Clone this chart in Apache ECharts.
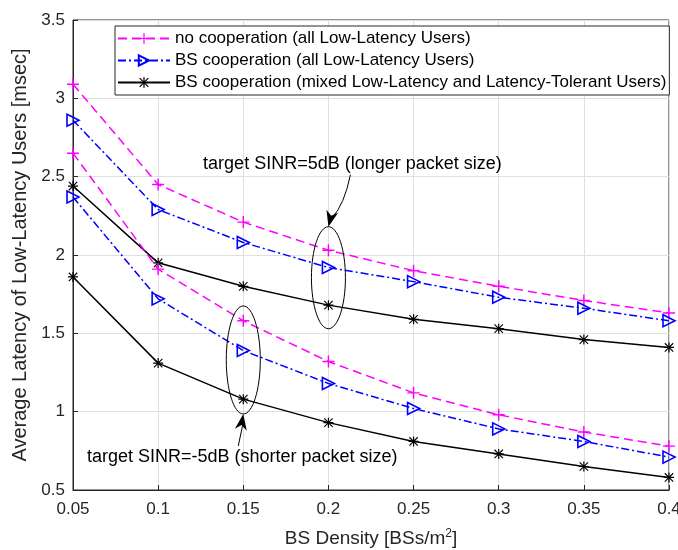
<!DOCTYPE html>
<html>
	<head>
		<meta charset="utf-8" />
		<title>Average Latency vs BS Density</title>
		<style type="text/css">
			html, body {margin:0;padding:0;background:#fff;}
			#chart {width:678px;height:550px;}
		</style>
	</head>
	<body>
		<div id="chart"></div>
		<script src="https://cdnjs.cloudflare.com/ajax/libs/echarts/6.0.0/echarts.min.js"></script>
		<script type="text/javascript">
			// BS density (x axis)
			const densities = [0.05, 0.1, 0.15, 0.2, 0.25, 0.3, 0.35, 0.4];
			// target SINR = 5dB (longer packet size)
			const noCoop5dB = [3.09, 2.45, 2.21, 2.03, 1.90, 1.80, 1.71, 1.63];
			const coop5dB = [2.86, 2.29, 2.08, 1.92, 1.83, 1.73, 1.66, 1.58];
			const mixed5dB = [2.44, 1.95, 1.80, 1.68, 1.59, 1.53, 1.46, 1.41];
			// target SINR = -5dB (shorter packet size)
			const noCoopM5dB = [2.65, 1.91, 1.58, 1.32, 1.12, 0.98, 0.87, 0.78];
			const coopM5dB = [2.37, 1.72, 1.39, 1.18, 1.02, 0.89, 0.81, 0.71];
			const mixedM5dB = [1.86, 1.31, 1.08, 0.93, 0.81, 0.73, 0.65, 0.58];
			const legendNames = [
				'no cooperation (all Low-Latency Users)',
				'BS cooperation (all Low-Latency Users)',
				'BS cooperation (mixed Low-Latency and Latency-Tolerant Users)'
			];

			const FONT = 'Liberation Sans, Arial, sans-serif';
			const plusSym = 'path://M4.4,0h1.2v4.4h4.4v1.2h-4.4v4.4h-1.2v-4.4h-4.4v-1.2h4.4z';
			const triSym = 'path://M0,0 L10,5 L0,10 Z';
			const starSym = 'path://M4.4,0h1.2v10h-1.2z M0,4.4h10v1.2h-10z M1.2,0.4 L9.6,8.8 L8.8,9.6 L0.4,1.2z M8.8,0.4 L9.6,1.2 L1.2,9.6 L0.4,8.8z';

			const pairs = arr => densities.map((x, i) => [x, arr[i]]);

			function makeSeries(name, values, kind) {
				const s = {name: name, type: 'line', data: pairs(values), animation: false, z: 3};
				if (kind === 0) {
					s.symbol = plusSym; s.symbolSize = 12;
					s.itemStyle = {color: '#ff00ff'};
					s.lineStyle = {color: '#ff00ff', width: 1.5, type: [9, 5]};
				} else if (kind === 1) {
					s.symbol = triSym; s.symbolSize = [12, 12];
					s.itemStyle = {color: 'rgba(255,255,255,0)', borderColor: '#0000ff', borderWidth: 1.6};
					s.lineStyle = {color: '#0000ff', width: 1.5, type: [8, 3, 2, 3]};
				} else {
					s.symbol = starSym; s.symbolSize = 10;
					s.itemStyle = {color: '#000'};
					s.lineStyle = {color: '#000', width: 1.5};
				}
				return s;
			}

			const chart = echarts.init(document.getElementById('chart'));
			const opt = {
				backgroundColor: '#fff',
				animation: false,
				grid: {
					left: 73, right: 9, top: 20, bottom: 60,
					outerBoundsMode: 'none', containLabel: false,
					show: true, borderColor: '#262626', borderWidth: 1
				},
				legend: {
					data: legendNames,
					orient: 'vertical',
					left: 115, top: 26,
					itemWidth: 52, itemHeight: 13, itemGap: 5,
					padding: [4, 3, 4, 2],
					backgroundColor: '#fff',
					borderColor: '#262626', borderWidth: 1,
					textStyle: {fontFamily: FONT, fontSize: 17, color: '#000'}
				},
				xAxis: {
					type: 'value',
					min: 0.05, max: 0.4, interval: 0.05,
					name: 'BS Density [BSs/m{sup|2}]',
					nameLocation: 'middle', nameGap: 38,
					nameTextStyle: {
						fontFamily: FONT, fontSize: 19, color: '#262626',
						rich: {sup: {fontFamily: FONT, fontSize: 12, color: '#262626', verticalAlign: 'top', padding: [0, 0, 9, 0]}}
					},
					axisLine: {onZero: false, lineStyle: {color: '#262626'}},
					axisTick: {inside: true, length: 5, lineStyle: {color: '#262626'}},
					axisLabel: {fontFamily: FONT, fontSize: 17, color: '#262626', margin: 11,
						formatter: v => String(+v.toFixed(2))},
					splitLine: {show: true, lineStyle: {color: '#dfdfdf'}}
				},
				yAxis: {
					type: 'value',
					min: 0.5, max: 3.5, interval: 0.5,
					name: 'Average Latency of Low-Latency Users [msec]',
					nameLocation: 'middle', nameGap: 41,
					nameTextStyle: {fontFamily: FONT, fontSize: 20, color: '#262626'},
					axisLine: {onZero: false, lineStyle: {color: '#262626'}},
					axisTick: {inside: true, length: 5, lineStyle: {color: '#262626'}},
					axisLabel: {fontFamily: FONT, fontSize: 17, color: '#262626', margin: 8,
						formatter: v => String(+v.toFixed(1))},
					splitLine: {show: true, lineStyle: {color: '#dfdfdf'}}
				},
				series: [
					makeSeries(legendNames[0], noCoop5dB, 0),
					makeSeries(legendNames[1], coop5dB, 1),
					makeSeries(legendNames[2], mixed5dB, 2),
					makeSeries(legendNames[0], noCoopM5dB, 0),
					makeSeries(legendNames[1], coopM5dB, 1),
					makeSeries(legendNames[2], mixedM5dB, 2)
				]
			};
			chart.setOption(opt);

			// annotations: ellipses, arrows and texts, placed from data coordinates
			const px = p => chart.convertToPixel({xAxisIndex: 0, yAxisIndex: 0}, p);
			function arrowHead(tip, from, len, half) {
				const dx = tip[0] - from[0], dy = tip[1] - from[1];
				const d = Math.sqrt(dx * dx + dy * dy);
				const ux = dx / d, uy = dy / d;
				const bx = tip[0] - ux * len, by = tip[1] - uy * len;
				const nx = tip[0] - ux * len * 0.7, ny = tip[1] - uy * len * 0.7;
				return [tip, [bx - uy * half, by + ux * half], [nx, ny], [bx + uy * half, by - ux * half]];
			}
			const c1 = px([0.2, (noCoop5dB[3] + mixed5dB[3]) / 2]);
			const c2 = px([0.15, (noCoopM5dB[2] + mixedM5dB[2]) / 2]);
			const ry1 = 51, ry2 = 54;
			const tip1 = [c1[0], c1[1] - ry1];
			const tail1 = [c1[0] + 22, c1[1] - ry1 - 52];
			const ctrl1 = [c1[0] + 16, c1[1] - ry1 - 22];
			const tip2 = [c2[0], c2[1] + ry2];
			const tail2 = [c2[0] - 5, c2[1] + ry2 + 32];

			chart.setOption({
				graphic: [
					{type: 'ellipse', shape: {cx: c1[0], cy: c1[1], rx: 17, ry: ry1}, style: {fill: 'none', stroke: '#000', lineWidth: 1}, z: 10},
					{type: 'ellipse', shape: {cx: c2[0], cy: c2[1], rx: 17, ry: ry2}, style: {fill: 'none', stroke: '#000', lineWidth: 1}, z: 10},
					{type: 'bezierCurve', shape: {x1: tail1[0], y1: tail1[1], cpx1: ctrl1[0], cpy1: ctrl1[1], x2: tip1[0] + 3, y2: tip1[1] - 8}, style: {fill: 'none', stroke: '#000', lineWidth: 1}, z: 10},
					{type: 'polygon', shape: {points: arrowHead(tip1, [tip1[0] + 5, tip1[1] - 20], 16, 6)}, style: {fill: '#000'}, z: 10},
					{type: 'line', shape: {x1: tail2[0], y1: tail2[1], x2: tip2[0], y2: tip2[1] + 8}, style: {stroke: '#000', lineWidth: 1}, z: 10},
					{type: 'polygon', shape: {points: arrowHead(tip2, tail2, 16, 6)}, style: {fill: '#000'}, z: 10},
					{type: 'text', x: tail1[0] + 2, y: tail1[1] - 2, style: {text: 'target SINR=5dB (longer packet size)', fontFamily: FONT, fontSize: 18, fill: '#000', align: 'center', verticalAlign: 'bottom'}, z: 10},
					{type: 'text', x: c2[0] - 1, y: tail2[1] + 2, style: {text: 'target SINR=-5dB (shorter packet size)', fontFamily: FONT, fontSize: 18, fill: '#000', align: 'center', verticalAlign: 'top'}, z: 10}
				]
			});
		</script>
	</body>
</html>
